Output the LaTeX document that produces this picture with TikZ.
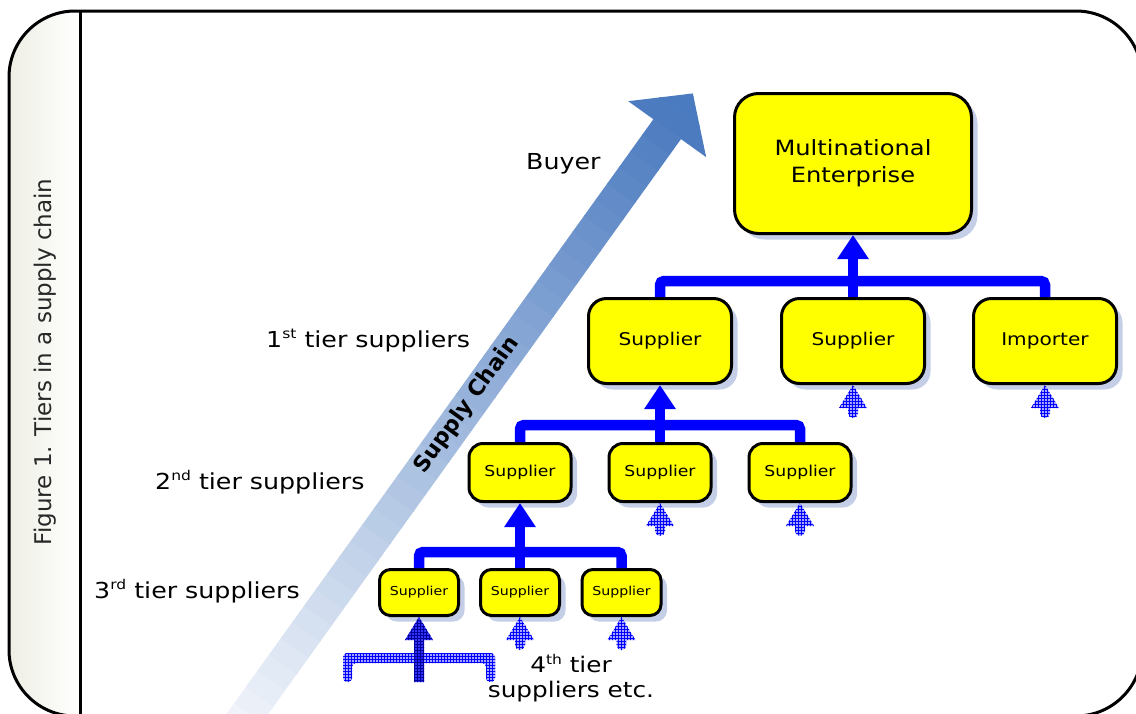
\documentclass[tikz,border=0pt]{standalone}
\usepackage{fontspec}
\setmainfont{DejaVu Sans}[FakeStretch=1.15]
\newfontfamily\plainsans{DejaVu Sans}
\usetikzlibrary{arrows.meta,shadows,patterns}
\definecolor{arrowblue}{RGB}{74,122,191}
\definecolor{connblue}{RGB}{0,0,255}
\definecolor{shadowc}{RGB}{196,206,230}
\definecolor{panelgray}{RGB}{236,236,226}
\definecolor{hatchfill}{RGB}{130,130,255}
\definecolor{figgray}{RGB}{40,40,40}
\definecolor{boxyellow}{RGB}{255,255,0}
\newcommand\fs[2]{\fontsize{#1}{#2}\selectfont}
\newcommand\sups[1]{\raisebox{8.5pt}{\fontsize{13.5}{13.5}\selectfont #1}}
\newcommand\hatcharrow[1]{%
  \path[hatch, shift={(#1.south)}] (0,0) -- (14,23) -- (5,23) -- (5,28)
    arc[start angle=0, end angle=-180, radius=5pt] -- (-5,23) -- (-14,23) -- cycle;}
\begin{document}
\begin{tikzpicture}[x=1pt,y=-1pt,
  box/.style={draw=black, line width=3pt, fill=boxyellow, align=center, inner sep=0pt,
    general shadow={fill=shadowc, shadow xshift=6pt, shadow yshift=-6pt}},
  conn/.style={draw=connblue, line width=10.5pt},
  uptip/.style={-{Triangle[width=30pt,length=24pt]}},
  hatch/.style={preaction={fill=hatchfill, fill opacity=0.7}, pattern=grid, pattern color=blue},
  darkhatch/.style={preaction={fill=blue, fill opacity=0.8}, pattern=grid, pattern color=blue!60!black},
  lab/.style={font=\fs{22}{26}, anchor=base west, inner sep=0pt},
  frameline/.style={draw=black, line width=3pt}]
\useasboundingbox (0,0) rectangle (1136,713);

% left panel background
\begin{scope}
  \clip[rounded corners=66pt] (9,11) rectangle (1142,716);
  \shade[left color=panelgray, right color=white] (0,0) rectangle (80,720);
\end{scope}

% big supply chain arrow
\begin{scope}[shift={(248,713)}, x={(0.583pt,0.812pt)}, y={(0.812pt,-0.583pt)}]
  \clip (-40,-17) -- (719,-17) -- (719,-48) -- (763,0) -- (719,48) -- (719,17) -- (-40,17) -- cycle;
  \foreach \i in {0,...,40} {
    \pgfmathsetmacro\f{min(100,6+\i*2.45)}
    \fill[arrowblue!\f!white] (\i*20-40,-60) -- (\i*20-19,-60) -- (\i*20-19,60) -- (\i*20-40,60) -- cycle;
  }
\end{scope}
\node[rotate=54.3, font=\plainsans\bfseries\fs{22}{22}, inner sep=0pt] (sc) at (467,405) {Supply Chain};

% frame
\draw[frameline, rounded corners=66pt] (9,11) rectangle (1142,716);
\draw[frameline] (80,11) -- (80,720);
\node[rotate=90, font=\plainsans\fs{23}{23}, text=figgray, inner sep=0pt] (fig) at (45,362) {Figure 1. Tiers in a supply chain};

% boxes
\node[box, minimum width=237pt, minimum height=140pt, rounded corners=24pt, font=\fs{21}{27}] (me) at (853,163.5) {Multinational\\Enterprise};

\node[box, minimum width=143pt, minimum height=85pt, rounded corners=18pt, font=\fs{17.5}{20}] (s1a) at (660,341) {Supplier};
\node[box, minimum width=143pt, minimum height=85pt, rounded corners=18pt, font=\fs{17.5}{20}] (s1b) at (853,341) {Supplier};
\node[box, minimum width=143pt, minimum height=85pt, rounded corners=18pt, font=\fs{17.5}{20}] (imp) at (1045,341) {Importer};

\node[box, minimum width=102pt, minimum height=58pt, rounded corners=14pt, font=\fs{15}{18}] (s2a) at (520,472.5) {Supplier};
\node[box, minimum width=102pt, minimum height=58pt, rounded corners=14pt, font=\fs{15}{18}] (s2b) at (660,472.5) {Supplier};
\node[box, minimum width=102pt, minimum height=58pt, rounded corners=14pt, font=\fs{15}{18}] (s2c) at (800,472.5) {Supplier};

\node[box, minimum width=79pt, minimum height=46pt, rounded corners=11pt, font=\fs{12.3}{15}] (s3a) at (419,592.5) {Supplier};
\node[box, minimum width=79pt, minimum height=46pt, rounded corners=11pt, font=\fs{12.3}{15}] (s3b) at (520,592.5) {Supplier};
\node[box, minimum width=79pt, minimum height=46pt, rounded corners=11pt, font=\fs{12.3}{15}] (s3c) at (621.5,592.5) {Supplier};

% connectors
\draw[conn, rounded corners=4pt] (s1a.north) -- ++(0,-16) -| (imp.north);
\draw[conn, uptip] (s1b.north) -- (me.south);
\draw[conn, rounded corners=4pt] (s2a.north) -- ++(0,-17) -| (s2c.north);
\draw[conn, uptip] (s2b.north) -- (s1a.south);
\draw[conn, rounded corners=4pt] (s3a.north) -- ++(0,-16) -| (s3c.north);
\draw[conn, uptip] (s3b.north) -- (s2a.south);

% hatched 4th tier arrows
\hatcharrow{s1b}
\hatcharrow{imp}
\hatcharrow{s2b}
\hatcharrow{s2c}
\hatcharrow{s3b}
\hatcharrow{s3c}
\path[hatch, shift={(s3a.south)}, rounded corners=4pt] (-76,65) -- (-76,36) -- (76,36) -- (76,65) -- (67,65) -- (67,46) -- (-67,46) -- (-67,65) -- cycle;
\path[darkhatch, shift={(s3a.south)}] (0,0) -- (14,23) -- (5,23) -- (5,65) -- (-5,65) -- (-5,23) -- (-14,23) -- cycle;

% labels
\node[lab] (buyer) at (526,169) {Buyer};
\node[lab] (t1) at (266,347) {1\sups{st} tier suppliers};
\node[lab] (t2) at (155,489) {2\sups{nd} tier suppliers};
\node[lab] (t3) at (94,598) {3\sups{rd} tier suppliers};
\node[font=\fs{21.5}{25}, align=center, inner sep=0pt] (t4) at (571,678) {4\sups{th} tier\\suppliers etc.};
\end{tikzpicture}
\end{document}
